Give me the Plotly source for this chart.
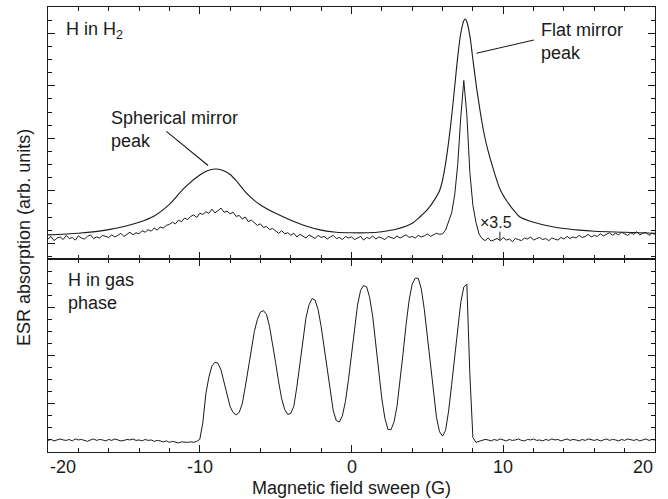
import plotly.graph_objects as go
from plotly.subplots import make_subplots

# ---------------- data ----------------
field_start = -20.0   # G, first sample of the recorded sweeps
field_step = 0.2      # G, sample spacing of the recorded sweeps

# Top panel: H in H2, noisy trace (x3.5)
h2_scaled = [
    0.08, 0.13, 0.05, 0.10, 0.12, 0.07, 0.15, 0.09, 0.11, 0.06,
    0.14, 0.10, 0.08, 0.13, 0.16, 0.09, 0.12, 0.10, 0.15, 0.13,
    0.11, 0.16, 0.12, 0.15, 0.19, 0.13, 0.17, 0.21, 0.16, 0.20,
    0.18, 0.24, 0.21, 0.26, 0.23, 0.29, 0.25, 0.31, 0.29, 0.34,
    0.36, 0.40, 0.37, 0.44, 0.41, 0.48, 0.45, 0.51, 0.54, 0.49,
    0.57, 0.55, 0.60, 0.57, 0.65, 0.58, 0.62, 0.67, 0.59, 0.61,
    0.56, 0.59, 0.51, 0.53, 0.46, 0.50, 0.41, 0.44, 0.39, 0.34,
    0.37, 0.30, 0.32, 0.26, 0.28, 0.23, 0.19, 0.24, 0.18, 0.20,
    0.15, 0.19, 0.12, 0.17, 0.14, 0.10, 0.16, 0.12, 0.09, 0.15,
    0.11, 0.13, 0.08, 0.12, 0.15, 0.09, 0.11, 0.07, 0.13, 0.10,
    0.12, 0.07, 0.10, 0.13, 0.06, 0.11, 0.09, 0.14, 0.08, 0.12,
    0.10, 0.07, 0.13, 0.11, 0.09, 0.14, 0.10, 0.13, 0.16, 0.11,
    0.13, 0.10, 0.15, 0.12, 0.14, 0.18, 0.13, 0.16, 0.19, 0.17,
    0.18, 0.25, 0.42, 0.58, 0.92, 1.50, 2.40, 3.10, 2.45, 1.35,
    0.72, 0.40, 0.18, 0.09,
    0.05, 0.10, 0.04, 0.07, 0.09, 0.05, 0.11, 0.06, 0.08, 0.03,
    0.09, 0.07, 0.05, 0.10, 0.08, 0.12, 0.06, 0.09, 0.11, 0.07,
    0.09, 0.05, 0.10, 0.08, 0.06, 0.11, 0.08, 0.13, 0.09, 0.12,
    0.10, 0.15, 0.11, 0.13, 0.17, 0.12, 0.15, 0.13, 0.18, 0.14,
    0.17, 0.20, 0.15, 0.19, 0.16, 0.21, 0.18, 0.15, 0.20, 0.17,
    0.22, 0.16, 0.19, 0.21, 0.15, 0.19, 0.17,
]

# Top panel: H in H2, smooth trace (spherical + flat mirror peaks)
h2_smooth_field = [
    -20, -18, -16, -14, -13, -12, -11, -10, -9.5, -9, -8.5, -8, -7.5, -7,
    -6.5, -6, -5, -4, -3, -2, -1, 0, 1, 2, 3, 4, 4.5, 5, 5.5, 5.8, 6, 6.2,
    6.4, 6.6, 6.8, 7, 7.2, 7.4, 7.5, 7.6, 7.8, 8, 8.2, 8.4, 8.6, 8.8, 9,
    9.4, 9.8, 10.2, 10.6, 11.1, 12, 13, 14, 15, 16, 18, 20,
]
h2_smooth = [
    0.16, 0.19, 0.26, 0.40, 0.52, 0.74, 1.06, 1.30, 1.38, 1.415, 1.39, 1.31,
    1.16, 0.98, 0.84, 0.73, 0.57, 0.44, 0.33, 0.25, 0.21, 0.20, 0.20, 0.22,
    0.27, 0.38, 0.50, 0.64, 0.84, 1.00, 1.20, 1.52, 1.93, 2.42, 2.98, 3.55,
    4.00, 4.24, 4.27, 4.22, 3.95, 3.50, 3.05, 2.66, 2.30, 2.00, 1.76, 1.36,
    1.02, 0.82, 0.66, 0.50, 0.40, 0.33, 0.28, 0.25, 0.23, 0.21, 0.19,
]

# Bottom panel: H in gas phase
gas_phase = [
    0.24, 0.26, 0.23, 0.25, 0.27, 0.25, 0.24, 0.26, 0.23, 0.27,
    0.25, 0.26, 0.24, 0.22, 0.25, 0.27, 0.24, 0.26, 0.25, 0.23,
    0.26, 0.24, 0.27, 0.25, 0.23, 0.24, 0.26, 0.25, 0.27, 0.24,
    0.25, 0.23, 0.26, 0.24, 0.25, 0.22, 0.24, 0.23, 0.21, 0.23,
    0.20, 0.22, 0.21, 0.19, 0.21, 0.20,
    0.20, 0.21, 0.20, 0.22, 0.26,
    0.60, 1.20, 1.55, 1.78, 1.86, 1.84, 1.70, 1.45, 1.17, 0.94, 0.82, 0.77, 0.82,
    1.00, 1.35, 1.75, 2.15, 2.50, 2.75, 2.90, 2.93, 2.85, 2.60, 2.25, 1.85,
    1.45, 1.10, 0.88, 0.78, 0.80,
    0.95, 1.35, 1.85, 2.35, 2.78, 3.05, 3.18, 3.15, 2.95, 2.60, 2.15, 1.65,
    1.20, 0.85, 0.65, 0.62, 0.75,
    1.05, 1.50, 2.05, 2.60, 3.05, 3.35, 3.45, 3.42, 3.20, 2.80, 2.25, 1.65,
    1.10, 0.70, 0.47, 0.46, 0.62,
    0.95, 1.45, 2.05, 2.65, 3.15, 3.48, 3.60, 3.60, 3.38, 2.95, 2.40, 1.80,
    1.20, 0.72, 0.42, 0.33, 0.45,
    0.85, 1.40, 2.00, 2.60, 3.10, 3.42, 3.48, 1.60, 0.30, 0.20,
    0.22, 0.24, 0.26, 0.25, 0.23, 0.26, 0.24, 0.27, 0.25, 0.23,
    0.26, 0.24, 0.25, 0.27, 0.24, 0.23, 0.26, 0.25, 0.27, 0.24,
    0.25, 0.23, 0.26, 0.24, 0.27, 0.25, 0.26, 0.23, 0.25, 0.27,
    0.24, 0.26, 0.25, 0.23, 0.26, 0.24, 0.27, 0.25, 0.24, 0.26,
    0.23, 0.25, 0.27, 0.24, 0.26, 0.25, 0.23, 0.26, 0.24, 0.27,
    0.25, 0.24, 0.26, 0.23, 0.25, 0.27, 0.24, 0.26, 0.25,
]

x_tick_vals = [-20, -10, 0, 10, 20]
x_tick_text = ["-20", "-10", "0", "10", "20"]
x_title = "Magnetic field sweep (G)"
y_title = "ESR absorption (arb. units)"

# ---------------- figure ----------------
FONT = "Liberation Sans, Arial, Helvetica, sans-serif"
INK = "#1a1a1a"
FS = 18

fig = make_subplots(rows=2, cols=1, shared_xaxes=True, vertical_spacing=0,
                    row_heights=[252, 193])

fig.add_trace(go.Scatter(x=h2_smooth_field, y=h2_smooth, mode="lines",
                         line=dict(color=INK, width=1.1, shape="spline", smoothing=0.8),
                         hoverinfo="skip"), row=1, col=1)
fig.add_trace(go.Scatter(x0=field_start, dx=field_step, y=h2_scaled, mode="lines",
                         line=dict(color=INK, width=1.0), hoverinfo="skip"),
              row=1, col=1)
fig.add_trace(go.Scatter(x0=field_start, dx=field_step, y=gas_phase, mode="lines",
                         line=dict(color=INK, width=1.0), hoverinfo="skip"),
              row=2, col=1)

xcommon = dict(range=[-20, 20], showline=True, linecolor=INK, linewidth=1.2,
               mirror="ticks", ticks="inside", ticklen=7, tickwidth=1.2,
               tickcolor=INK, tick0=0, dtick=10, showgrid=False, zeroline=False,
               showticklabels=False,
               minor=dict(ticks="inside", ticklen=4, tickwidth=1, tickcolor=INK,
                          tick0=0, dtick=2, showgrid=False))
fig.update_xaxes(**xcommon)

ycommon = dict(showline=True, linecolor=INK, linewidth=1.2, mirror="ticks",
               ticks="inside", ticklen=7, tickwidth=1.2, tickcolor=INK,
               tick0=0, dtick=1, showgrid=False, zeroline=False,
               showticklabels=False,
               minor=dict(ticks="inside", ticklen=4, tickwidth=1, tickcolor=INK,
                          tick0=0, dtick=0.25, showgrid=False))
fig.update_yaxes(range=[-0.30, 4.50], row=1, col=1, **ycommon)
fig.update_yaxes(range=[0, 4], row=2, col=1, **ycommon)

annotations = []
# x tick labels
for i, (v, t) in enumerate(zip(x_tick_vals, x_tick_text)):
    anchor = "left" if i == 0 else ("right" if i == len(x_tick_vals) - 1 else "center")
    annotations.append(dict(x=v, y=0, xref="x2", yref="paper", text=t,
                            showarrow=False, xanchor=anchor, yanchor="top",
                            yshift=-3, font=dict(size=FS, color=INK, family=FONT)))
# axis titles
annotations.append(dict(x=0.5, y=0, xref="paper", yref="paper", text=x_title,
                        showarrow=False, xanchor="center", yanchor="top", yshift=-24,
                        font=dict(size=FS, color=INK, family=FONT)))
annotations.append(dict(x=0, y=0.481, xref="paper", yref="paper", text=y_title,
                        showarrow=False, textangle=-90, xanchor="center",
                        yanchor="middle", xshift=-24,
                        font=dict(size=FS, color=INK, family=FONT)))
# panel labels
annotations.append(dict(x=-18.97, y=4.06, xref="x", yref="y", text="H in H<sub>2</sub>",
                        showarrow=False, xanchor="left", yanchor="middle",
                        font=dict(size=FS, color=INK, family=FONT)))
annotations.append(dict(x=-18.8, y=3.33, xref="x2", yref="y2", text="H in gas<br>phase",
                        showarrow=False, xanchor="left", yanchor="middle", align="left",
                        font=dict(size=FS, color=INK, family=FONT)))
annotations.append(dict(x=-15.95, y=2.16, xref="x", yref="y",
                        text="Spherical mirror<br>peak", showarrow=False,
                        xanchor="left", yanchor="middle", align="left",
                        font=dict(size=FS, color=INK, family=FONT)))
annotations.append(dict(x=12.35, y=3.85, xref="x", yref="y",
                        text="Flat mirror<br>peak", showarrow=False,
                        xanchor="left", yanchor="middle", align="left",
                        font=dict(size=FS, color=INK, family=FONT)))
annotations.append(dict(x=9.53, y=0.39, xref="x", yref="y", text="×3.5",
                        showarrow=False, xanchor="center", yanchor="middle",
                        font=dict(size=16, color=INK, family=FONT)))

shapes = [
    dict(type="line", xref="x", yref="y", x0=-12.2, y0=2.13, x1=-9.45, y1=1.48,
         line=dict(color=INK, width=1.1)),
    dict(type="line", xref="x", yref="y", x0=12.02, y0=3.87, x1=8.24, y1=3.62,
         line=dict(color=INK, width=1.1)),
    dict(type="line", xref="x", yref="y", x0=9.78, y0=0.22, x1=9.78, y1=0.06,
         line=dict(color=INK, width=1.0)),
]

fig.update_layout(width=668, height=499, margin=dict(l=48, r=13, t=7, b=47),
                  paper_bgcolor="white", plot_bgcolor="white", showlegend=False,
                  annotations=annotations, shapes=shapes,
                  font=dict(family=FONT, size=FS, color=INK))

fig.write_html("out.html",
               config={"displayModeBar": False},
               post_script="document.body.style.margin='0';"
                           "document.body.style.overflow='hidden';")
